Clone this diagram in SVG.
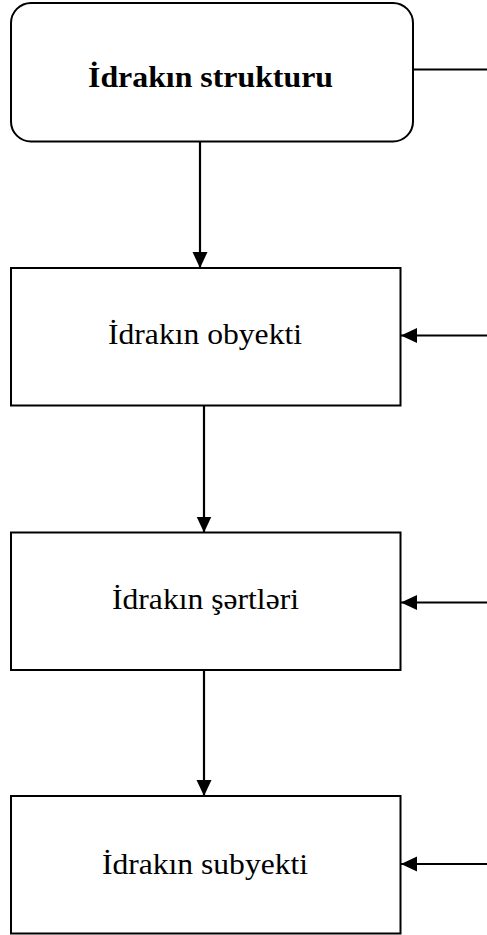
<svg xmlns="http://www.w3.org/2000/svg" width="487" height="935" viewBox="0 0 487 935">
  <style>
    .box { fill: #ffffff; stroke: #000000; stroke-width: 2; }
    .lbl { font-family: "Liberation Serif", "Times New Roman", serif; fill: #000000; text-anchor: middle; }
    .reg { font-size: 29px; }
    .bold { font-size: 29px; font-weight: bold; }
    .conn { stroke: #000000; stroke-width: 2.2; fill: none; }
  </style>
  <defs>
    <marker id="arr" markerUnits="userSpaceOnUse" markerWidth="17" markerHeight="16" refX="16" refY="7.5" orient="auto">
      <path d="M0,0 L16,7.5 L0,15 Z" fill="#000000"/>
    </marker>
  </defs>

  <g id="n1">
    <rect class="box" x="11" y="3" width="402" height="138.5" rx="20" ry="20"/>
    <text class="lbl bold" x="210.5" y="86.5" textLength="245" lengthAdjust="spacingAndGlyphs">İdrakın strukturu</text>
  </g>
  <g id="n2">
    <rect class="box" x="11" y="268" width="389.5" height="137.5"/>
    <text class="lbl reg" x="205" y="343.5" textLength="194" lengthAdjust="spacingAndGlyphs">İdrakın obyekti</text>
  </g>
  <g id="n3">
    <rect class="box" x="11" y="532.5" width="389.5" height="137.5"/>
    <text class="lbl reg" x="205.5" y="608.5" textLength="187" lengthAdjust="spacingAndGlyphs">İdrakın şərtləri</text>
  </g>
  <g id="n4">
    <rect class="box" x="11" y="796" width="389.5" height="137.5"/>
    <text class="lbl reg" x="205" y="873.5" textLength="206" lengthAdjust="spacingAndGlyphs">İdrakın subyekti</text>
  </g>

  <g id="connectors">
    <line class="conn" x1="200" y1="141.5" x2="200" y2="268" marker-end="url(#arr)"/>
    <line class="conn" x1="204" y1="405.5" x2="204" y2="532.5" marker-end="url(#arr)"/>
    <line class="conn" x1="204" y1="670" x2="204" y2="796" marker-end="url(#arr)"/>
    <line class="conn" x1="413" y1="69.5" x2="487" y2="69.5"/>
    <line class="conn" x1="487" y1="335.5" x2="401" y2="335.5" marker-end="url(#arr)"/>
    <line class="conn" x1="487" y1="602.5" x2="401" y2="602.5" marker-end="url(#arr)"/>
    <line class="conn" x1="487" y1="864" x2="401" y2="864" marker-end="url(#arr)"/>
  </g>
</svg>
